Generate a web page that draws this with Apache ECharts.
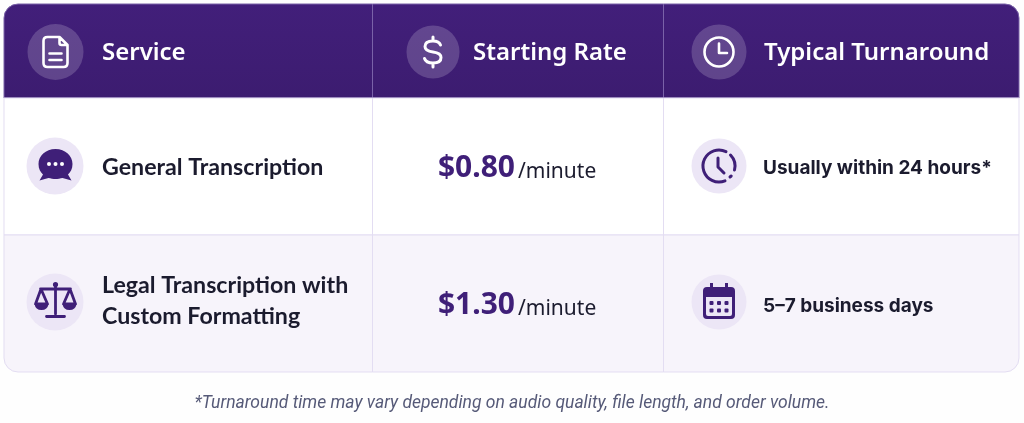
<!DOCTYPE html>
<html>
<head>
<meta charset="utf-8">
<title>Transcription rates</title>
<style>
html, body { margin: 0; padding: 0; background: #fefefe; }
#chart { width: 1024px; height: 423px; }
</style>
<script src="https://cdn.jsdelivr.net/npm/echarts@6/dist/echarts.min.js"></script>
</head>
<body>
<div id="chart"></div>
<script>
// table content
var columnTitles = ['Service', 'Starting Rate', 'Typical Turnaround'];
var services = [['General Transcription'], ['Legal Transcription with', 'Custom Formatting']];
var rates = ['$0.80', '$1.30'];
var rateUnit = '/minute';
var turnarounds = ['Usually within 24 hours*', '5\u20137 business days'];
var footnote = '*Turnaround time may vary depending on audio quality, file length, and order volume.';

// layout, in page pixels
var colEdges = [4, 372.5, 663.5, 1019];
var rowEdges = [4, 98, 235, 372];
var RADIUS = 14;
var PURPLE = '#3f1f78';
var INK = '#1b1b2e';
var LINE = '#e3ddf2';

// icons are drawn around 0,0
var icons = {
	doc: 'M-8,-15 H4 L12,-7 V11 Q12,15 8,15 H-8 Q-12,15 -12,11 V-11 Q-12,-15 -8,-15 Z M4,-15 V-9 Q4,-7 6,-7 H12 M-6,1.5 H6 M-6,8 H6',
	dollar: 'M7.5,-7 Q6,-11 0,-11 Q-8,-11 -8,-5.5 Q-8,-1 0,0 Q8,1 8,5.5 Q8,11 0,11 Q-7,11 -8.5,6.5 M0,-15 V-11 M0,11 V15',
	clock: 'M14.5,0 A14.5,14.5 0 1 1 -14.5,0 A14.5,14.5 0 1 1 14.5,0 Z M0,-8.5 V1 H8',
	clockGap: 'M7,-14.4 A16,16 0 1 0 6,14.8 M11.5,-11 A16,16 0 0 1 15.5,4 M-1,-8 V1 L5,7 M11,11 L12.2,10',
	chat: 'M0,-17 C10,-17 17,-10 17,-2 C17,3 15,6 12.5,8.5 L16,14.5 L7,12 C5,12.5 2,13 0,13 C-2,13 -5,12.5 -7,12 L-16,14.5 L-12.5,8.5 C-15,6 -17,3 -17,-2 C-17,-10 -10,-17 0,-17 Z',
	scaleLine: 'M0,-16 V13 M-9,15.5 H9 M-15,-12 H15 M-14.5,-12 L-20,3 H-8 Z M14.5,-12 L8,3 H20 Z',
	scaleFill: 'M-21,3 H-7 Q-8,9 -14,9 Q-20,9 -21,3 Z M7,3 H21 Q20,9 14,9 Q8,9 7,3 Z M0,-19 A2.6,2.6 0 1 1 -0.01,-19 Z',
	calendar: 'M-16,-10 Q-16,-14 -12,-14 H-9 V-18 H-6 V-14 H6 V-18 H9 V-14 H12 Q16,-14 16,-10 V14 Q16,18 12,18 H-12 Q-16,18 -16,14 Z M-13,-4 V13 Q-13,15 -11,15 H11 Q13,15 13,13 V-4 Z'
};
var chatDots = [-6.5, 0, 6.5];
var calDotsX = [-7.5, 0, 7.5];
var calDotsY = [2, 9.5];

function iconParts(name, cx, cy) {
	var white = '#ffffff';
	function line(color, w) {
		return { fill: null, stroke: color, lineWidth: w, lineCap: 'round', lineJoin: 'round' };
	}
	var parts = [];
	if (name === 'doc' || name === 'dollar' || name === 'clock') {
		parts.push({ type: 'path', x: cx, y: cy, shape: { pathData: icons[name] }, style: line(white, name === 'dollar' ? 3 : 2.6) });
	} else if (name === 'clockGap') {
		parts.push({ type: 'path', x: cx, y: cy, shape: { pathData: icons[name] }, style: line(PURPLE, 3) });
	} else if (name === 'chat') {
		parts.push({ type: 'path', x: cx, y: cy, shape: { pathData: icons.chat }, style: { fill: PURPLE } });
		chatDots.forEach(function (d) {
			parts.push({ type: 'circle', shape: { cx: cx + d, cy: cy - 2, r: 2 }, style: { fill: white } });
		});
	} else if (name === 'scale') {
		parts.push({ type: 'path', x: cx, y: cy, shape: { pathData: icons.scaleLine }, style: line(PURPLE, 2.8) });
		parts.push({ type: 'path', x: cx, y: cy, shape: { pathData: icons.scaleFill }, style: { fill: PURPLE } });
	} else if (name === 'calendar') {
		parts.push({ type: 'path', x: cx, y: cy, shape: { pathData: icons.calendar }, style: { fill: PURPLE, fillRule: 'evenodd' } });
		calDotsY.forEach(function (dy) {
			calDotsX.forEach(function (dx) {
				parts.push({ type: 'rect', shape: { x: cx + dx - 2, y: cy + dy - 2, width: 4, height: 4, r: 1 }, style: { fill: PURPLE } });
			});
		});
	}
	return parts;
}

function label(text, x, y, font, color, align) {
	return {
		type: 'text',
		style: {
			text: text, x: x, y: y,
			fontFamily: font.family, fontSize: font.size, fontWeight: font.weight,
			fill: color, align: align || 'left', verticalAlign: 'middle'
		}
	};
}

var HEAD_FONT = { family: '"Noto Sans"', size: 24, weight: 600 };
var SERVICE_FONT = { family: 'Lato', size: 23.2, weight: 700 };
var TURN_FONT = { family: 'Inter', size: 19, weight: 700 };
var PRICE_FONT = { family: '"Noto Sans"', size: 30, weight: 700 };
var UNIT_FONT = { family: '"Noto Sans"', size: 21, weight: 400 };

var headCells = [
	{ icon: 'doc', cx: 55.5, r: 28, tx: 102 },
	{ icon: 'dollar', cx: 433, r: 26.5, tx: 473 },
	{ icon: 'clock', cx: 719, r: 27.5, tx: 764 }
];
var rowMeta = [
	{ icons: ['chat', 'clockGap'], cy: 166, iconY: 166, textY: 168, turnY: 168, priceY: 168, unitY: 172 },
	{ icons: ['scale', 'calendar'], cy: 302, iconY: 301, textY: 301, turnY: 306, priceY: 305, unitY: 309 }
];
var SERVICE_LINE = 31;

function renderCell(params, api) {
	var col = api.value(0), row = api.value(1);
	var x0 = colEdges[col], x1 = colEdges[col + 1], y0 = rowEdges[row], y1 = rowEdges[row + 1];
	var r = [0, 0, 0, 0];
	if (row === 0 && col === 0) r = [RADIUS, 0, 0, 0];
	if (row === 0 && col === 2) r = [0, RADIUS, 0, 0];
	if (row === 2 && col === 0) r = [0, 0, 0, RADIUS];
	if (row === 2 && col === 2) r = [0, 0, RADIUS, 0];

	var kids = [];
	if (row === 0) {
		var h = headCells[col];
		kids.push({
			type: 'rect',
			shape: { x: x0, y: y0, width: x1 - x0, height: y1 - y0, r: r },
			style: { fill: new echarts.graphic.LinearGradient(0, 0, 0, 1, [{ offset: 0, color: '#421f7a' }, { offset: 1, color: '#3c1c70' }]), stroke: '#7a62a8', lineWidth: 1 }
		});
		kids.push({ type: 'circle', shape: { cx: h.cx, cy: 52, r: h.r }, style: { fill: 'rgba(255,255,255,0.18)' } });
		kids = kids.concat(iconParts(h.icon, h.cx, 52));
		kids.push(label(columnTitles[col], h.tx, 53, HEAD_FONT, '#ffffff'));
		return { type: 'group', children: kids };
	}

	var m = rowMeta[row - 1];
	kids.push({
		type: 'rect',
		shape: { x: x0, y: y0, width: x1 - x0, height: y1 - y0, r: r },
		style: { fill: row === 1 ? '#ffffff' : '#f7f4fb', stroke: LINE, lineWidth: 1 }
	});
	if (col === 0) {
		kids.push({ type: 'circle', shape: { cx: 55, cy: m.cy, r: 28.5 }, style: { fill: '#ece6f6' } });
		kids = kids.concat(iconParts(m.icons[0], 55.5, m.iconY));
		var lines = services[row - 1];
		lines.forEach(function (t, i) {
			var y = m.textY + (i - (lines.length - 1) / 2) * SERVICE_LINE;
			kids.push(label(t, 102, y, SERVICE_FONT, INK));
		});
	} else if (col === 1) {
		kids.push(label(rates[row - 1], 515, m.priceY, PRICE_FONT, PURPLE, 'right'));
		kids.push(label(rateUnit, 518, m.unitY, UNIT_FONT, INK));
	} else {
		kids.push({ type: 'circle', shape: { cx: 719, cy: m.cy, r: 27.5 }, style: { fill: '#ece6f6' } });
		kids = kids.concat(iconParts(m.icons[1], 719, m.iconY));
		kids.push(label(turnarounds[row - 1], 763, m.turnY, TURN_FONT, INK));
	}
	return { type: 'group', children: kids };
}

var cells = [];
for (var row = 0; row < 3; row++) {
	for (var col = 0; col < 3; col++) {
		cells.push([col, row]);
	}
}

var chart = echarts.init(document.getElementById('chart'), null, { renderer: 'canvas' });
chart.setOption({
	backgroundColor: '#fefefe',
	animation: false,
	title: {
		text: footnote,
		left: 'center',
		top: 390,
		textStyle: { fontFamily: 'Roboto', fontStyle: 'italic', fontWeight: 400, fontSize: 17.5, color: '#565a78' }
	},
	series: [{
		type: 'custom',
		coordinateSystem: 'none',
		silent: true,
		data: cells,
		renderItem: renderCell
	}]
});
</script>
</body>
</html>
